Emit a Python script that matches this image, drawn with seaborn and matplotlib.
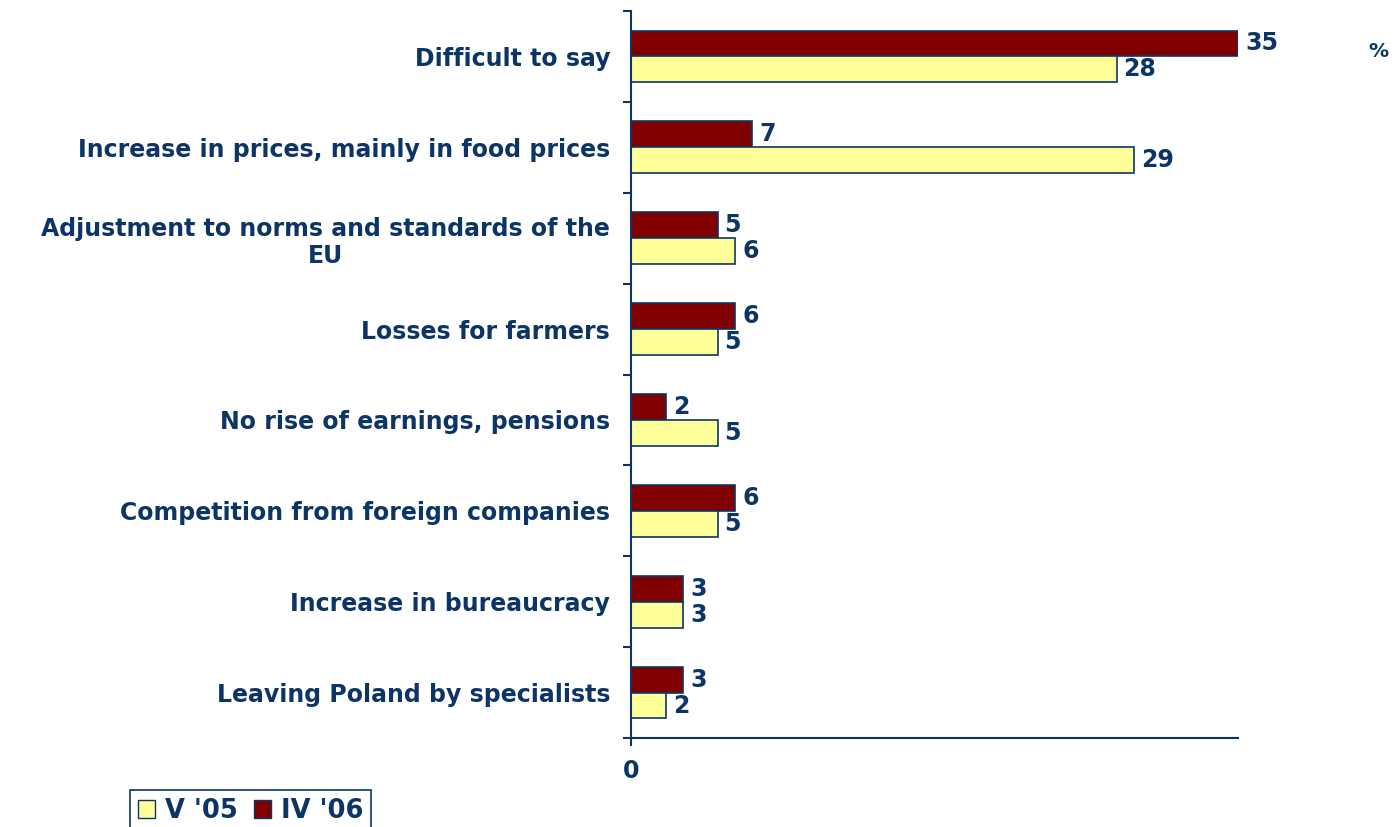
import numpy as np
import pandas as pd
import matplotlib
matplotlib.use("Agg")
import matplotlib.pyplot as plt
from matplotlib.patches import Patch
from matplotlib.ticker import FixedLocator
import seaborn as sns

# Survey answers and shares (%) for the two waves
categories = [
    "Difficult to say",
    "Increase in prices, mainly in food prices",
    "Adjustment to norms and standards of the\nEU",
    "Losses for farmers",
    "No rise of earnings, pensions",
    "Competition from foreign companies",
    "Increase in bureaucracy",
    "Leaving Poland by specialists",
]
values_v05 = [28, 29, 6, 5, 5, 5, 3, 2]
values_iv06 = [35, 7, 5, 6, 2, 6, 3, 3]
series_names = ["V '05", "IV '06"]

NAVY = "#0c3566"
YELLOW = "#ffff99"
MAROON = "#800000"
FS = 17

df = pd.DataFrame({
    "category": categories * 2,
    "survey": [series_names[1]] * len(categories) + [series_names[0]] * len(categories),
    "value": values_iv06 + values_v05,
})

sns.set_theme(style="white")
plt.rcParams["font.family"] = ["DejaVu Sans"]

fig = plt.figure(figsize=(13.95, 8.27), dpi=100)
ax = fig.add_axes([631 / 1395, 1 - 738 / 827, (1238 - 631) / 1395, (738 - 11) / 827])

sns.barplot(
    data=df, y="category", x="value", hue="survey",
    order=categories, hue_order=[series_names[1], series_names[0]],
    palette={series_names[0]: YELLOW, series_names[1]: MAROON},
    saturation=1, width=0.57, edgecolor=NAVY, linewidth=1.2,
    orient="h", legend=False, ax=ax,
)

for cont in ax.containers:
    ax.bar_label(cont, padding=5, color=NAVY, fontsize=FS, fontweight="bold")

ax.set_xlim(0, 35)
ax.set_ylim(len(categories) - 0.5, -0.5)
ax.set_xlabel("")
ax.set_ylabel("")

for side in ("top", "right"):
    ax.spines[side].set_visible(False)
for side in ("left", "bottom"):
    ax.spines[side].set_color(NAVY)
    ax.spines[side].set_linewidth(1.5)

# category names at centers, tick marks at the category boundaries
ax.set_yticks(range(len(categories)))
ax.set_yticklabels(categories, color=NAVY, fontsize=FS, fontweight="bold")
for lbl in ax.get_yticklabels():
    lbl.set_multialignment("center")
ax.tick_params(axis="y", which="major", left=False, length=0, pad=15)
ax.yaxis.set_minor_locator(FixedLocator(np.arange(-0.5, len(categories), 1)))
ax.tick_params(axis="y", which="minor", left=True, length=6, width=1.5,
               color=NAVY, direction="out")

ax.set_xticks([0])
ax.set_xticklabels(["0"], color=NAVY, fontsize=FS, fontweight="bold")
ax.tick_params(axis="x", which="major", bottom=True, length=6, width=1.5,
               color=NAVY, direction="out", pad=9)

# unit marker, top right
fig.text(1378 / 1395, 1 - 57 / 827, "%", ha="center", va="baseline",
         color=NAVY, fontsize=14.5, fontweight="bold")

handles = [
    Patch(facecolor=YELLOW, edgecolor=NAVY, label=series_names[0]),
    Patch(facecolor=MAROON, edgecolor=NAVY, label=series_names[1]),
]
leg = fig.legend(
    handles=handles, loc="upper left", bbox_to_anchor=(130 / 1395, 1 - 790 / 827),
    ncol=2, frameon=True, fancybox=False, edgecolor=NAVY, framealpha=1,
    prop={"weight": "bold", "size": 18.5}, labelcolor=NAVY,
    handlelength=0.66, handleheight=0.66, handletextpad=0.39, columnspacing=0.62,
    borderpad=0.31, borderaxespad=0,
)
leg.get_frame().set_linewidth(1.2)

fig.savefig("out.png", dpi=100)
